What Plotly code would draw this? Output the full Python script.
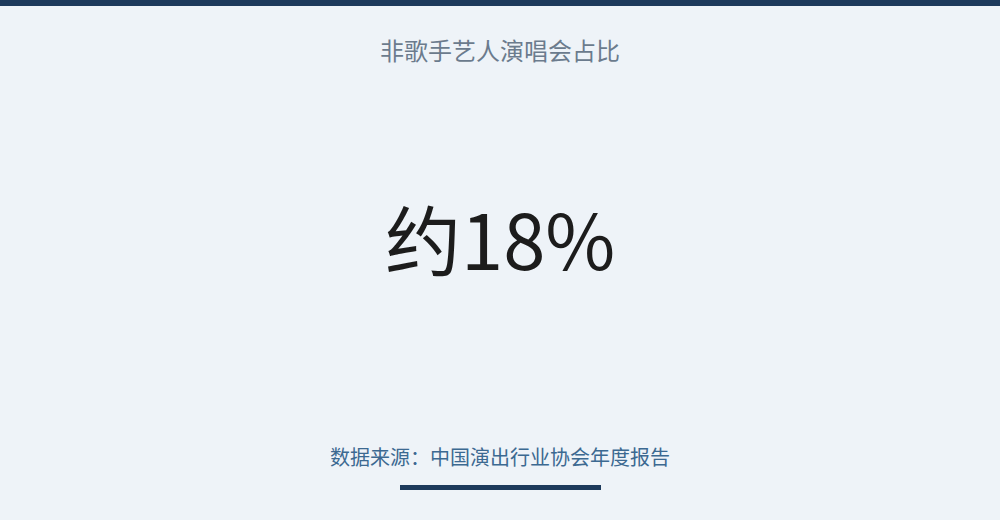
from plotly.graph_objects import Figure


title_text  = "非歌手艺人演唱会占比"
value_text  = "约18%"
source_text = "数据来源：中国演出行业协会年度报告"

W, H        = 1000, 520
bg          = "#eef3f8"
navy        = "#1d3a5c"
font_cjk    = "Noto Sans CJK SC, Noto Sans, sans-serif"


def py(y):
    # pixel row from the top -> paper coordinate
    return 1 - y / H


fig = Figure()

fig.update_layout(
    width           = W,
    height          = H,
    margin          = dict(l = 0, r = 0, t = 0, b = 0),
    paper_bgcolor   = bg,
    plot_bgcolor    = bg,
    showlegend      = False,
    xaxis           = dict(visible = False, range = [0, 1]),
    yaxis           = dict(visible = False, range = [0, 1]),
)

# top band and the short rule under the source
fig.add_shape(type = "rect", xref = "paper", yref = "paper",
              x0 = 0, x1 = 1, y0 = py(6), y1 = 1,
              fillcolor = navy, line_width = 0, layer = "above")
fig.add_shape(type = "rect", xref = "paper", yref = "paper",
              x0 = 400 / W, x1 = 601 / W, y0 = py(490), y1 = py(485),
              fillcolor = navy, line_width = 0, layer = "above")

fig.add_annotation(text = title_text, xref = "paper", yref = "paper",
                   x = 0.5, y = py(49), showarrow = False,
                   xanchor = "center", yanchor = "middle",
                   font = dict(family = font_cjk, size = 24, color = "#6b7b8d"))

fig.add_annotation(text = value_text, xref = "paper", yref = "paper",
                   x = 0.5, y = py(237), showarrow = False,
                   xanchor = "center", yanchor = "middle",
                   font = dict(family = font_cjk, size = 76, color = "#1c1c1c"))

fig.add_annotation(text = source_text, xref = "paper", yref = "paper",
                   x = 0.5, y = py(456), showarrow = False,
                   xanchor = "center", yanchor = "middle",
                   font = dict(family = font_cjk, size = 20, color = "#3c6991"))

fig.write_html("out.html", config = dict(displayModeBar = False),
               post_script = "document.body.style.margin = '0';")
